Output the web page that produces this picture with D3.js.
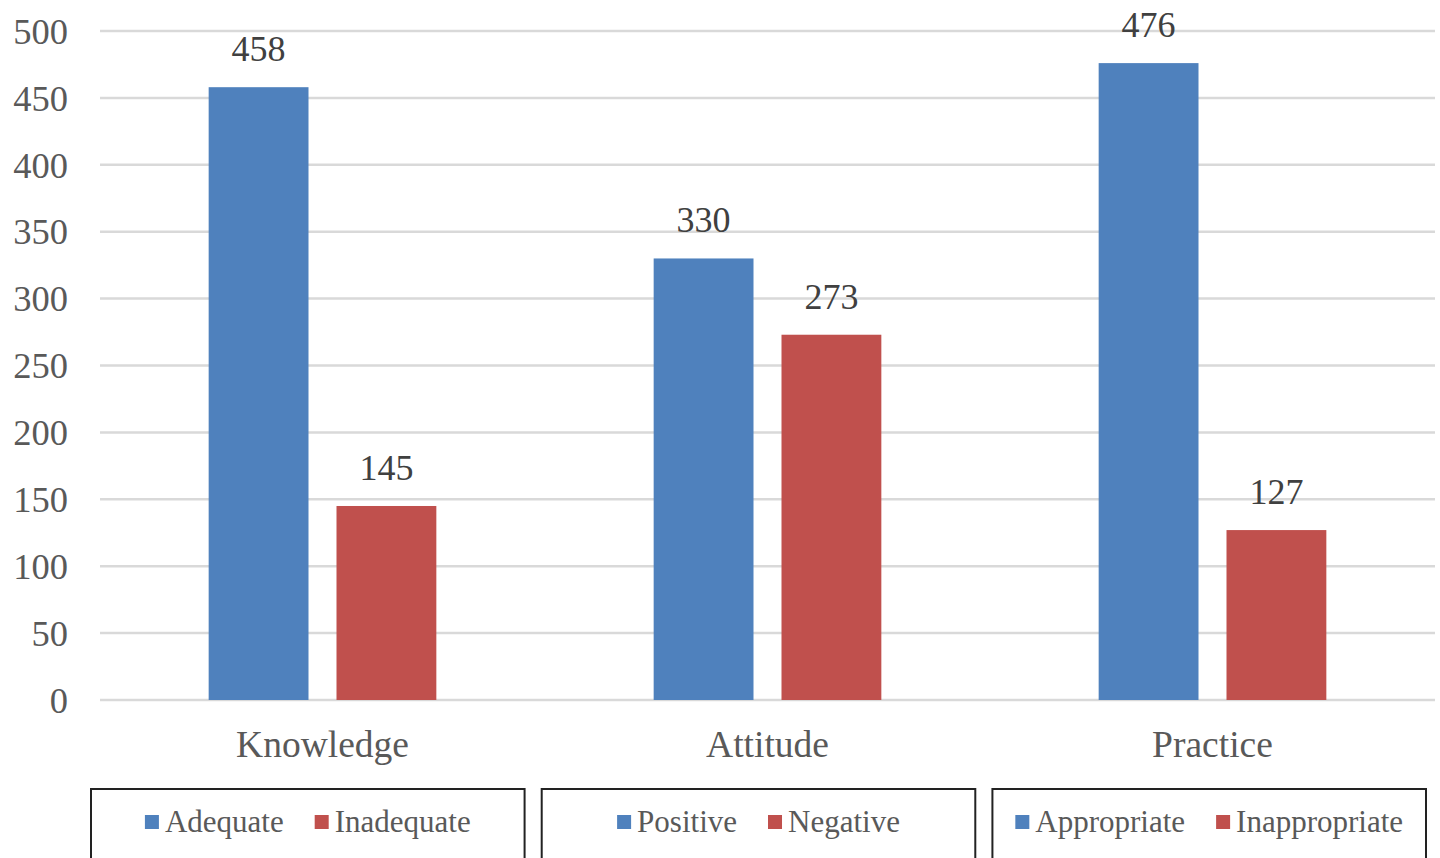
<!DOCTYPE html>
<html>
<head>
<meta charset="utf-8">
<script src="https://cdn.jsdelivr.net/npm/d3@7"></script>
<style>
  body { margin: 0; background: #fff; }
  svg { display: block; font-family: "Liberation Serif", "Times New Roman", serif; }
</style>
</head>
<body>
<svg id="chart" width="1440" height="858"></svg>
<script>
// data
var categories = ['Knowledge', 'Attitude', 'Practice'];
var positiveValues = [458, 330, 476];
var negativeValues = [145, 273, 127];
var positiveNames = ['Adequate', 'Positive', 'Appropriate'];
var negativeNames = ['Inadequate', 'Negative', 'Inappropriate'];
var yTicks = [0, 50, 100, 150, 200, 250, 300, 350, 400, 450, 500];

var colors = ['#4f81bd', '#c0504d'];

var svg = d3.select('#chart');
var plotLeft = 100, plotRight = 1435, plotTop = 31, plotBottom = 700;

var x0 = d3.scaleBand().domain(categories).range([plotLeft, plotRight]);
var x1 = d3.scaleBand().domain([0, 1]).range([0, x0.bandwidth()])
  .paddingInner(0.219).paddingOuter(0.85);
var y = d3.scaleLinear().domain([0, 500]).range([plotBottom, plotTop]);

// gridlines
svg.append('g').selectAll('line').data(yTicks).enter().append('line')
  .attr('x1', plotLeft).attr('x2', plotRight)
  .attr('y1', function(d) { return y(d); })
  .attr('y2', function(d) { return y(d); })
  .attr('stroke', '#d9d9d9').attr('stroke-width', 2.5);

// y axis labels
svg.append('g').selectAll('text').data(yTicks).enter().append('text')
  .attr('x', 68)
  .attr('y', function(d) { return y(d); })
  .attr('dy', '0.35em')
  .attr('text-anchor', 'end')
  .attr('font-size', 36.5)
  .attr('fill', '#595959')
  .text(function(d) { return d; });

// bars
var rows = categories.map(function(c, i) {
  return { cat: c, vals: [positiveValues[i], negativeValues[i]] };
});

var groups = svg.append('g').selectAll('g').data(rows).enter().append('g')
  .attr('transform', function(d) { return 'translate(' + x0(d.cat) + ',0)'; });

groups.selectAll('rect').data(function(d) { return d.vals; }).enter().append('rect')
  .attr('x', function(d, i) { return x1(i); })
  .attr('y', function(d) { return y(d); })
  .attr('width', x1.bandwidth())
  .attr('height', function(d) { return plotBottom - y(d); })
  .attr('fill', function(d, i) { return colors[i]; });

groups.selectAll('text').data(function(d) { return d.vals; }).enter().append('text')
  .attr('x', function(d, i) { return x1(i) + x1.bandwidth() / 2; })
  .attr('y', function(d) { return y(d) - 26; })
  .attr('text-anchor', 'middle')
  .attr('font-size', 36)
  .attr('fill', '#404040')
  .text(function(d) { return d; });

// category labels
svg.append('g').selectAll('text').data(categories).enter().append('text')
  .attr('x', function(d) { return x0(d) + x0.bandwidth() / 2; })
  .attr('y', 757)
  .attr('text-anchor', 'middle')
  .attr('font-size', 37.5)
  .attr('fill', '#595959')
  .text(function(d) { return d; });

// legend boxes, one per category
var legendX = d3.scaleBand().domain(categories).range([91, 1426]).paddingInner(0.038);

categories.forEach(function(c, i) {
  var bx = legendX(c), bw = legendX.bandwidth();
  var g = svg.append('g');
  g.append('rect')
    .attr('x', bx).attr('y', 789).attr('width', bw).attr('height', 90)
    .attr('fill', 'none').attr('stroke', '#222').attr('stroke-width', 2);

  var items = g.append('g');
  var cx = 0;
  [positiveNames[i], negativeNames[i]].forEach(function(name, k) {
    items.append('rect')
      .attr('x', cx).attr('y', 815).attr('width', 14).attr('height', 14)
      .attr('fill', colors[k]);
    var t = items.append('text')
      .attr('x', cx + 20).attr('y', 832)
      .attr('font-size', 31)
      .attr('fill', '#595959')
      .text(name);
    cx += 20 + t.node().getComputedTextLength() + 31;
  });
  var w = cx - 31;
  items.attr('transform', 'translate(' + (bx + bw / 2 - w / 2) + ',0)');
});
</script>
</body>
</html>
